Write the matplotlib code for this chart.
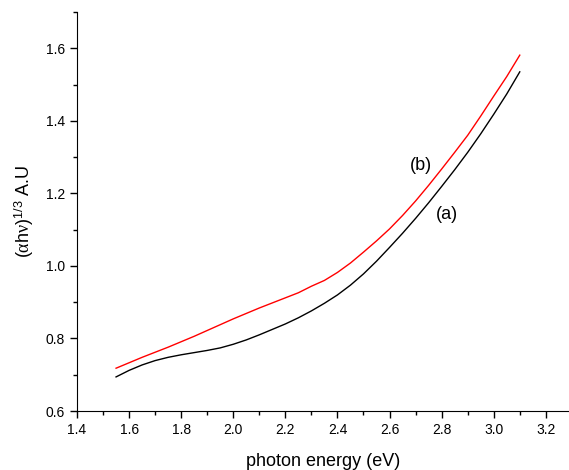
import matplotlib
matplotlib.use("Agg")
import matplotlib.pyplot as plt
from matplotlib.ticker import MultipleLocator

plt.rcParams["font.family"] = ["Liberation Sans", "DejaVu Sans"]
plt.rcParams["mathtext.fontset"] = "custom"
plt.rcParams["mathtext.rm"] = "Liberation Sans"
plt.rcParams["mathtext.it"] = "Liberation Serif"

energy = [1.55, 1.60, 1.65, 1.70, 1.75, 1.80, 1.85, 1.90, 1.95, 2.00,
          2.05, 2.10, 2.15, 2.20, 2.25, 2.30, 2.35, 2.40, 2.45, 2.50,
          2.55, 2.60, 2.65, 2.70, 2.75, 2.80, 2.85, 2.90, 2.95, 3.00,
          3.05, 3.10]

curve_a = [0.694, 0.712, 0.727, 0.739, 0.748, 0.755, 0.761, 0.767, 0.774, 0.784,
           0.796, 0.810, 0.825, 0.840, 0.857, 0.876, 0.897, 0.920, 0.947, 0.978,
           1.013, 1.051, 1.090, 1.131, 1.174, 1.219, 1.265, 1.313, 1.364, 1.418,
           1.474, 1.535]

curve_b = [0.718, 0.733, 0.748, 0.762, 0.776, 0.791, 0.806, 0.822, 0.838, 0.854,
           0.869, 0.884, 0.898, 0.912, 0.926, 0.944, 0.960, 0.982, 1.008, 1.038,
           1.069, 1.102, 1.139, 1.179, 1.222, 1.267, 1.313, 1.360, 1.413, 1.468,
           1.522, 1.581]

fig = plt.figure(figsize=(5.69, 4.70), dpi=100)
ax = fig.add_axes([0.1353, 0.1255, 0.8647, 0.849])

ax.plot(energy, curve_a, color="black", linewidth=1.0)
ax.plot(energy, curve_b, color="red", linewidth=1.0)

ax.text(2.72, 1.278, "(b)", fontsize=13, ha="center", va="center")
ax.text(2.82, 1.143, "(a)", fontsize=13, ha="center", va="center")

ax.set_xlim(1.4, 3.289)
ax.set_ylim(0.6, 1.7)
ax.xaxis.set_major_locator(MultipleLocator(0.2))
ax.xaxis.set_minor_locator(MultipleLocator(0.1))
ax.yaxis.set_major_locator(MultipleLocator(0.2))
ax.yaxis.set_minor_locator(MultipleLocator(0.1))
ax.xaxis.set_major_formatter(lambda v, p: f"{v:.1f}")
ax.yaxis.set_major_formatter(lambda v, p: f"{v:.1f}")

for side in ("top", "right"):
    ax.spines[side].set_visible(False)
ax.tick_params(which="major", direction="out", length=5, width=1, labelsize=10)
ax.tick_params(which="minor", direction="out", length=3, width=1)

ax.set_xlabel("photon energy (eV)", fontsize=13, labelpad=12)
ax.set_ylabel(r"($\alpha$h$\nu$)$^{\mathrm{1/3}}$ A.U", fontsize=13, labelpad=7)

fig.savefig("out.png", dpi=100, facecolor="white")
